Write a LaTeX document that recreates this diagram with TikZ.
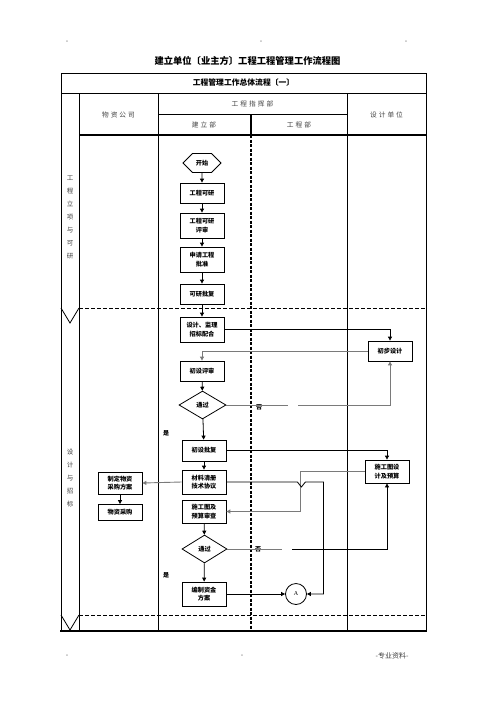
\documentclass[tikz,border=0pt]{standalone}
\usepackage{fontspec}
\usepackage{xcolor}
\usetikzlibrary{arrows.meta, shapes.geometric, shapes.symbols}
\setmainfont{Liberation Serif}
\newfontfamily\cjk{Noto Sans CJK SC}
\newfontfamily\cjkhead[LetterSpace=30]{Noto Sans CJK SC}
\definecolor{linegray}{HTML}{7A7A7A}
\definecolor{headgray}{HTML}{404040}
\tikzset{
  plain/.style={line width=0.8pt},
  thick rule/.style={line width=1.7pt},
  phasedash/.style={line width=0.8pt, dash pattern=on 4pt off 2pt},
  lanedash/.style={line width=1.6pt, dash pattern=on 3pt off 1.5pt},
  flow/.style={-{Triangle[length=4pt,width=4pt]}, line width=0.8pt, color=black},
  flowgray/.style={-{Triangle[length=4pt,width=4pt]}, line width=0.9pt, color=linegray},
  procbox/.style={draw, line width=0.8pt, fill=white, minimum width=44pt, minimum height=20pt,
    inner sep=1pt, align=center, font=\cjk\bfseries\fontsize{6.2}{8.5}\selectfont},
  startbox/.style={draw, line width=0.8pt, shape=signal, signal to=east and west,
    minimum width=38pt, minimum height=19pt, inner sep=1pt, font=\cjk\bfseries\fontsize{6.2}{8}\selectfont},
  decision/.style={draw, line width=0.8pt, diamond, aspect=1.7, minimum width=47pt, minimum height=28pt,
    inner sep=0pt, font=\cjk\bfseries\fontsize{6.2}{8}\selectfont},
  joint/.style={draw, line width=0.8pt, circle, minimum size=21pt, inner sep=0pt, font=\fontsize{6}{7}\selectfont},
  headtext/.style={font=\cjkhead\fontsize{6.7}{8}\selectfont, text=headgray},
  sidetext/.style={font=\cjk\fontsize{6.5}{13}\selectfont, text=headgray, align=center},
  tag/.style={font=\cjk\bfseries\fontsize{6}{7}\selectfont, inner sep=0pt},
  pagemark/.style={font=\cjk\fontsize{7}{8}\selectfont, text=headgray, inner sep=0pt}
}
\begin{document}
\begin{tikzpicture}[x=1pt, y=-1pt]
\useasboundingbox (0,0) rectangle (496,702);
% page marks and title
\node[pagemark] (topl) at (67,42) {-};
\node[pagemark] (topm) at (261,42) {-};
\node[pagemark] (topr) at (406,42) {-};
\node[pagemark] (footl) at (67,656) {-};
\node[pagemark] (footm) at (242,656) {-};
\node[pagemark] (footr) at (392,656) {-专业资料-};
\node[font=\cjk\bfseries\fontsize{9.3}{11}\selectfont] (title) at (247.5,60.5) {建立单位〔业主方〕工程工程管理工作流程图};

% table
\draw[plain] (61,73) rectangle (426,631);
\draw[plain] (61,93) -- (426,93);
\draw[plain] (79,93) -- (79,631);
\draw[plain] (158,93) -- (158,631);
\draw[plain] (347,93) -- (347,631);
\draw[plain] (158,114) -- (347,114);
\draw[thick rule] (251,114) -- (251,135);
\draw[thick rule] (79,135) -- (426,135);
\draw[thick rule] (60,631) -- (427,631);
\draw[lanedash] (251,135) -- (251,631);
\draw[phasedash] (79,308) -- (426,308);
\draw[phasedash] (79,615) -- (426,615);
\draw[plain] (61,308) -- (70,323) -- (79,308);
\draw[plain] (61,615) -- (70,630) -- (79,615);

\node[font=\cjk\bfseries\fontsize{7.8}{9}\selectfont] (sub) at (243.5,83) {工程管理工作总体流程〔一〕};
\node[headtext] (wuzi) at (118.5,115) {物资公司};
\node[headtext] (zhihui) at (252.5,104) {工程指挥部};
\node[headtext] (jianli) at (204,125) {建立部};
\node[headtext] (gongcheng) at (299,125) {工程部};
\node[headtext] (sheji) at (386.5,115) {设计单位};
\node[sidetext] (phase1) at (70,217) {工\\程\\立\\项\\与\\可\\研};
\node[sidetext] (phase2) at (70,478) {设\\计\\与\\招\\标};

% flow nodes
\node[startbox] (start) at (202,163) {开始};
\node[procbox] (kyan) at (202,193) {工程可研};
\node[procbox, minimum height=25pt] (kyps) at (202,225.5) {工程可研\\评审};
\node[procbox, minimum height=25pt] (sqpz) at (202,259.5) {申请工程\\批准};
\node[procbox] (kypf) at (202,294) {可研批复};
\node[procbox, minimum height=25pt] (zhaob) at (202,329.5) {设计、监理\\招标配合};
\node[procbox] (chubu) at (390,351) {初步设计};
\node[procbox] (chush) at (202,371) {初设评审};
\node[decision] (pass1) at (202.5,405) {通过};
\node[procbox, minimum height=21pt] (chupf) at (204,450.5) {初设批复};
\node[procbox, minimum height=24pt] (cail) at (204,482) {材料清册\\技术协议};
\node[procbox, minimum height=23pt] (sgtu) at (387,471.5) {施工图设\\计及预算};
\node[procbox, minimum height=22pt] (wzfa) at (120,483) {制定物资\\采购方案};
\node[procbox, minimum height=16pt] (wzcg) at (120,512.5) {物资采购};
\node[procbox, minimum height=23pt] (shch) at (204,511.5) {施工图及\\预算审查};
\node[decision, minimum width=45pt] (pass2) at (204.5,549) {通过};
\node[procbox, minimum height=24pt] (zijin) at (204,594) {编制资金\\方案};
\node[joint] (jointA) at (296,594) {A};

\node[tag] (yes1) at (166,433) {是};
\node[tag] (no1) at (259,407) {否};
\node[tag] (yes2) at (166,575) {是};
\node[tag] (no2) at (258,549) {否};
\coordinate (gap1a) at (288,405);
\coordinate (gap1b) at (298,405);
\coordinate (gap2a) at (282,549);
\coordinate (gap2b) at (292,549);

% connectors
\draw[flow] (start) -- (kyan);
\draw[flow] (kyan) -- (kyps);
\draw[flow] (kyps) -- (sqpz);
\draw[flow] (sqpz) -- (kypf);
\draw[flow] (kypf) -- (zhaob);
\draw[flow] (zhaob.east) -| (chubu.north);
\draw[flowgray] (chubu.west) -| (chush.north);
\draw[flow] (chush) -- (pass1);
\draw[flowgray, -] (pass1.east) -- (gap1a);
\draw[flowgray] (gap1b) -| (chubu.south);
\draw[flow] (pass1) -- (chupf);
\draw[flow] (chupf.east) -| (sgtu.north);
\draw[flow] (chupf) -- (cail);
\draw[flowgray] (cail.west) -- (wzfa.east);
\draw[flow] (wzfa) -- (wzcg);
\draw[flowgray] (sgtu.west) -- ++(-64,0) |- (shch.east);
\draw[flow] (cail.east) -- ++(71,0) -- ++(4,5) -- ++(4,-5) -- ++(18,0) |- (jointA.east);
\draw[flow] (shch) -- (pass2);
\draw[flowgray, -] (pass2.east) -- (gap2a);
\draw[flow] (gap2b) -| (sgtu.south);
\draw[flow] (pass2) -- (zijin);
\draw[flow] (zijin) -- (jointA);
\end{tikzpicture}
\end{document}
